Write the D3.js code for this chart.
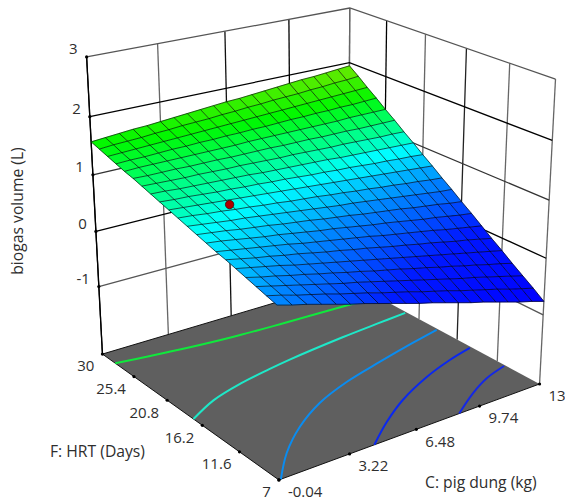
<!DOCTYPE html>
<html>
<head>
<meta charset="utf-8">
<title>biogas volume response surface</title>
<script src="https://cdn.jsdelivr.net/npm/d3@7"></script>
<style>
	html, body { margin: 0; padding: 0; background: #fff; }
	svg { display: block; }
	text { font-family: "Open Sans", "Noto Sans", sans-serif; font-size: 15px; fill: #2e2e2e; }
	text.title { font-size: 15.7px; }
</style>
</head>
<body>
<svg id="chart" width="565" height="502"></svg>
<script>

	// axis ticks
	var pigTicks = [-0.04, 3.22, 6.48, 9.74, 13];
	var pigLabels = ["-0.04", "3.22", "6.48", "9.74", "13"];
	var hrtTicks = [30, 25.4, 20.8, 16.2, 11.6, 7];
	var hrtLabels = ["30", "25.4", "20.8", "16.2", "11.6", "7"];
	var volumeTicks = [3, 2, 1, 0, -1];
	var volumeLabels = ["3", "2", "1", "0", "-1"];

	// response surface, rows run from HRT 7 to HRT 30, columns from pig dung -0.04 to 13
	var surface = [
		[.55,.48,.42,.35,.28,.21,.15,.08,.01,-.06,-.13,-.19,-.26,-.33,-.40,-.46,-.53,-.60,-.67,-.73,-.80],
		[.60,.54,.47,.41,.35,.28,.22,.16,.09,.03,-.03,-.10,-.16,-.22,-.29,-.35,-.41,-.47,-.54,-.60,-.66],
		[.65,.59,.53,.47,.41,.35,.29,.24,.18,.12,.06,0,-.06,-.12,-.18,-.24,-.29,-.35,-.41,-.47,-.53],
		[.70,.64,.59,.53,.48,.42,.37,.31,.26,.20,.15,.10,.04,-.01,-.07,-.12,-.18,-.23,-.29,-.34,-.40],
		[.75,.70,.65,.60,.54,.49,.44,.39,.34,.29,.24,.19,.14,.09,.04,-.01,-.06,-.11,-.16,-.21,-.26],
		[.80,.75,.70,.66,.61,.57,.52,.47,.43,.38,.34,.29,.24,.20,.15,.11,.06,.01,-.03,-.08,-.13],
		[.84,.80,.76,.72,.68,.64,.59,.55,.51,.47,.43,.39,.34,.30,.26,.22,.18,.13,.09,.05,.01],
		[.89,.86,.82,.78,.74,.71,.67,.63,.59,.56,.52,.48,.44,.41,.37,.33,.29,.26,.22,.18,.15],
		[.94,.91,.88,.84,.81,.78,.74,.71,.68,.64,.61,.58,.54,.51,.48,.45,.41,.38,.35,.31,.28],
		[.99,.96,.93,.90,.88,.85,.82,.79,.76,.73,.70,.67,.65,.62,.59,.56,.53,.50,.47,.44,.42],
		[1.04,1.02,.99,.97,.94,.92,.89,.87,.84,.82,.80,.77,.75,.72,.70,.67,.65,.62,.60,.57,.55],
		[1.09,1.07,1.05,1.03,1.01,.99,.97,.95,.93,.91,.89,.87,.85,.83,.81,.79,.77,.75,.73,.71,.69],
		[1.14,1.12,1.11,1.09,1.07,1.06,1.04,1.03,1.01,1.00,.98,.96,.95,.93,.92,.90,.88,.87,.85,.84,.82],
		[1.19,1.18,1.16,1.15,1.14,1.13,1.12,1.11,1.09,1.08,1.07,1.06,1.05,1.04,1.02,1.01,1.00,.99,.98,.97,.96],
		[1.24,1.23,1.22,1.21,1.21,1.20,1.19,1.19,1.18,1.17,1.16,1.16,1.15,1.14,1.13,1.13,1.12,1.11,1.10,1.10,1.09],
		[1.29,1.28,1.28,1.28,1.27,1.27,1.27,1.26,1.26,1.26,1.26,1.25,1.25,1.25,1.24,1.24,1.24,1.23,1.23,1.23,1.23],
		[1.33,1.34,1.34,1.34,1.34,1.34,1.34,1.34,1.34,1.35,1.35,1.35,1.35,1.35,1.35,1.35,1.35,1.36,1.36,1.36,1.36],
		[1.38,1.39,1.39,1.40,1.41,1.41,1.42,1.42,1.43,1.43,1.44,1.44,1.45,1.46,1.46,1.47,1.47,1.48,1.48,1.49,1.50],
		[1.43,1.44,1.45,1.46,1.47,1.48,1.49,1.50,1.51,1.52,1.53,1.54,1.55,1.56,1.57,1.58,1.59,1.60,1.61,1.62,1.63],
		[1.48,1.50,1.51,1.52,1.54,1.55,1.57,1.58,1.59,1.61,1.62,1.64,1.65,1.67,1.68,1.69,1.71,1.72,1.74,1.75,1.77],
		[1.53,1.55,1.57,1.59,1.60,1.62,1.64,1.66,1.68,1.70,1.72,1.73,1.75,1.77,1.79,1.81,1.83,1.84,1.86,1.88,1.90]
	];
	var surfaceLift = 0.04; // read slightly low against the wall lines

	// contour lines on the floor, [pig dung, HRT]
	var contourGreen = [[-0.04,28.1],[1.49,27.61],[3.14,27.15],[5.32,26.71],[7.95,26.44],[11.97,26.14],[13,25.98]];
	var contourCyan = [[-0.04,17.33],[1.45,18.85],[3.19,19.9],[4.81,20.55],[6.01,20.95],[9.11,21.7],[11.21,22.07],[12.92,22.34]];
	var contourSky = [[0.05,7],[1.35,9.6],[2.94,12.03],[4.75,14.07],[6.73,15.54],[8.96,16.69],[11.24,17.76],[12.92,18.47]];
	var contourBlue = [[4.41,7],[5.92,9.03],[7.59,10.93],[9.67,12.71],[11.46,13.85],[12.91,14.53]];
	var contourNavy = [[8.67,7],[10.27,8.78],[11.62,9.98],[12.93,10.7]];

	// the design point
	var designPoint = [2.7, 19.6, 0.97];

	var volumeFloor = -2.26;

	var x = d3.scaleLinear().domain([-0.04, 13]).range([0, 1]);
	var y = d3.scaleLinear().domain([7, 30]).range([0, 1]);
	var z = d3.scaleLinear().domain([volumeFloor, 3]).range([0, 1]);

	var color = d3.scaleLinear()
		.domain([-0.8, 0.0, 0.55, 0.93, 1.1, 1.3, 1.5, 1.9])
		.range(["#0000ff", "#0018ff", "#0088ff", "#00ffff", "#00ffaa", "#00ff5a", "#00f800", "#70e800"])
		.clamp(true);

	// box corners on screen, [unit x, unit y, unit z, px, py], the camera is fitted to them
	var anchors = [
		[0,1,0,102,354], [0,0,0,279,480], [1,0,0,539,384], [1,1,0,349,281],
		[0,1,1,87,57], [1,1,1,349,8], [1,0,1,556,79]
	];

	function fitCamera(pts) {
		var n = 11, A = [], i, j, k;
		for (i = 0; i < n; i++) { A.push(new Array(n + 1).fill(0)); }
		function add(row, rhs) {
			for (var a = 0; a < n; a++) {
				for (var b = 0; b < n; b++) { A[a][b] += row[a] * row[b]; }
				A[a][n] += row[a] * rhs;
			}
		}
		pts.forEach(function(p) {
			add([p[0],p[1],p[2],1,0,0,0,0,-p[3]*p[0],-p[3]*p[1],-p[3]*p[2]], p[3]);
			add([0,0,0,0,p[0],p[1],p[2],1,-p[4]*p[0],-p[4]*p[1],-p[4]*p[2]], p[4]);
		});
		for (i = 0; i < n; i++) {
			var best = i;
			for (j = i + 1; j < n; j++) { if (Math.abs(A[j][i]) > Math.abs(A[best][i])) best = j; }
			var t = A[i]; A[i] = A[best]; A[best] = t;
			for (j = 0; j < n; j++) {
				if (j === i) continue;
				var f = A[j][i] / A[i][i];
				for (k = i; k <= n; k++) { A[j][k] -= f * A[i][k]; }
			}
		}
		return A.map(function(r, a) { return r[n] / r[a]; });
	}

	var cam = fitCamera(anchors);

	function project(c, f, v) {
		var u = x(c), w = y(f), h = z(v);
		var d = cam[8]*u + cam[9]*w + cam[10]*h + 1;
		return [(cam[0]*u + cam[1]*w + cam[2]*h + cam[3]) / d,
			(cam[4]*u + cam[5]*w + cam[6]*h + cam[7]) / d];
	}

	var pigMin = pigTicks[0], pigMax = pigTicks[4], hrtMin = 7, hrtMax = 30;
	var path = d3.line();
	var svg = d3.select("#chart");

	// back walls
	var wallColors = { pig: ["#000", "#666", "#111", "#000", "#666"], hrt: ["#666", "#000", "#666", "#222", "#666", "#666"], vol: ["#555", "#000", "#333", "#000", "#555"] };
	var walls = svg.append("g").attr("fill", "none").attr("stroke-width", 1.3);

	pigTicks.forEach(function(c, i) {
		walls.append("path").attr("stroke", wallColors.pig[i])
			.attr("d", path([project(c, hrtMax, volumeFloor), project(c, hrtMax, 3)]));
	});
	hrtTicks.slice(0, 5).forEach(function(f, i) {
		walls.append("path").attr("stroke", wallColors.hrt[i])
			.attr("d", path([project(pigMax, f, volumeFloor), project(pigMax, f, 3)]));
	});
	walls.append("path").attr("stroke", "#666")
		.attr("d", path([project(pigMax, hrtMin, volumeFloor), project(pigMax, hrtMin, 3)]));
	volumeTicks.forEach(function(v, i) {
		walls.append("path").attr("stroke", wallColors.vol[i])
			.attr("d", path([project(pigMin, hrtMax, v), project(pigMax, hrtMax, v), project(pigMax, hrtMin, v)]));
	});

	// floor
	svg.append("path")
		.attr("fill", "#5f5f5f")
		.attr("d", path([project(pigMin, hrtMax, volumeFloor), project(pigMin, hrtMin, volumeFloor),
			project(pigMax, hrtMin, volumeFloor), project(pigMax, hrtMax, volumeFloor)]) + "Z");
	svg.append("path").attr("fill", "none").attr("stroke", "#111").attr("stroke-width", 1)
		.attr("d", path([project(pigMax, hrtMax, volumeFloor), project(pigMin, hrtMax, volumeFloor),
			project(pigMin, hrtMin, volumeFloor), project(pigMax, hrtMin, volumeFloor)]));

	var contourLine = d3.line().curve(d3.curveCatmullRom);
	var contours = [contourGreen, contourCyan, contourSky, contourBlue, contourNavy];
	var contourColors = ["#10e83c", "#1ee8c8", "#0a8cf0", "#0a28f0", "#1428e6"];
	contours.forEach(function(c, i) {
		svg.append("path")
			.attr("fill", "none")
			.attr("stroke", contourColors[i])
			.attr("stroke-width", 2)
			.attr("d", contourLine(c.map(function(p) { return project(p[0], p[1], volumeFloor); })));
	});

	// left axis and ticks
	svg.append("path").attr("fill", "none").attr("stroke", "#000").attr("stroke-width", 1.2)
		.attr("d", path([project(pigMin, hrtMax, volumeFloor), project(pigMin, hrtMax, 3)]));

	// surface
	var rows = surface.length, cols = surface[0].length;
	var pigAt = d3.scaleLinear().domain([0, cols - 1]).range([pigMin, pigMax]);
	var hrtAt = d3.scaleLinear().domain([0, rows - 1]).range([hrtMin, hrtMax]);
	function node(j, i) { return project(pigAt(i), hrtAt(j), surface[j][i] + surfaceLift); }

	var cells = [];
	d3.range(rows - 1).reverse().forEach(function(j) {
		d3.range(cols - 1).forEach(function(i) {
			cells.push({ j: j, i: i, v: d3.mean([surface[j][i], surface[j][i+1], surface[j+1][i], surface[j+1][i+1]]) });
		});
	});
	svg.append("g").selectAll("path").data(cells).join("path")
		.attr("fill", function(d) { return color(d.v); })
		.attr("stroke", function(d) { return color(d.v); })
		.attr("stroke-width", 0.5)
		.attr("d", function(d) { return path([node(d.j, d.i), node(d.j, d.i+1), node(d.j+1, d.i+1), node(d.j+1, d.i)]) + "Z"; });

	var grid = svg.append("g").attr("fill", "none").attr("stroke", "#000").attr("stroke-width", 0.8).attr("stroke-opacity", 0.8);
	d3.range(rows).forEach(function(j) {
		grid.append("path").attr("d", path(d3.range(cols).map(function(i) { return node(j, i); })));
	});
	d3.range(cols).forEach(function(i) {
		grid.append("path").attr("d", path(d3.range(rows).map(function(j) { return node(j, i); })));
	});

	// design point
	var dp = project(designPoint[0], designPoint[1], designPoint[2]);
	svg.append("circle").attr("cx", dp[0]).attr("cy", dp[1]).attr("r", 4.2)
		.attr("fill", "#b00000").attr("stroke", "#300").attr("stroke-width", 0.7);

	// tick dots and labels
	function tick(p, label, dx, dy, anchor) {
		svg.append("circle").attr("cx", p[0]).attr("cy", p[1]).attr("r", 1.6).attr("fill", "#000");
		svg.append("text").attr("x", p[0] + dx).attr("y", p[1] + dy)
			.attr("text-anchor", anchor).attr("dy", "0.35em").text(label);
	}
	volumeTicks.forEach(function(v, i) { tick(project(pigMin, hrtMax, v), volumeLabels[i], -9, -8, "end"); });
	hrtTicks.forEach(function(f, i) { tick(project(pigMin, f, volumeFloor), hrtLabels[i], -8, 12, "end"); });
	pigTicks.forEach(function(c, i) { tick(project(c, hrtMin, volumeFloor), pigLabels[i], 9, 12, "start"); });

	// axis titles
	svg.append("text").attr("class", "title").attr("x", 50).attr("y", 452).attr("dy", "0.35em").text("F: HRT (Days)");
	svg.append("text").attr("class", "title").attr("x", 425).attr("y", 483).attr("dy", "0.35em").text("C: pig dung (kg)");
	svg.append("text").attr("class", "title").attr("transform", "translate(17,211) rotate(-90)")
		.attr("text-anchor", "middle").attr("dy", "0.35em").text("biogas volume (L)");

</script>
</body>
</html>
